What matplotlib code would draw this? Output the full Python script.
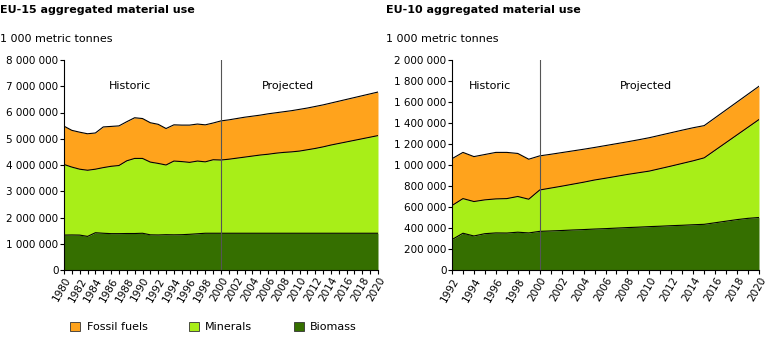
import numpy as np
import matplotlib
matplotlib.use('Agg')
import matplotlib.pyplot as plt
from matplotlib.ticker import FuncFormatter, MultipleLocator
from matplotlib.patches import Patch

# EU-15, 1980-2020 (cumulative tops in 1 000 t)
years15 = list(range(1980, 2021))
biomass15 = [1330, 1335, 1330, 1280, 1420, 1400, 1385, 1385, 1390, 1390,
             1400, 1340, 1335, 1345, 1340, 1345, 1360, 1380, 1400, 1400,
             1400, 1400, 1400, 1400, 1400, 1400, 1400, 1400, 1400, 1400,
             1400, 1400, 1400, 1400, 1400, 1400, 1400, 1400, 1400, 1400, 1400]
min_top15 = [4020, 3920, 3840, 3800, 3840, 3900, 3950, 3980, 4160, 4250,
             4250, 4110, 4060, 4000, 4150, 4130, 4100, 4150, 4120, 4200,
             4190, 4220, 4260, 4300, 4340, 4380, 4410, 4450, 4480, 4500,
             4530, 4580, 4630, 4690, 4760, 4820, 4880, 4940, 5000, 5060, 5120]
tot15 = [5480, 5320, 5250, 5190, 5220, 5450, 5470, 5490, 5650, 5800,
         5770, 5610, 5550, 5390, 5530, 5520, 5520, 5560, 5530, 5600,
         5680, 5720, 5770, 5820, 5860, 5900, 5950, 5990, 6030, 6070,
         6120, 6170, 6230, 6290, 6360, 6430, 6500, 6570, 6640, 6710, 6780]

# EU-10, 1992-2020
years10 = list(range(1992, 2021))
biomass10 = [290, 350, 324, 346, 353, 352, 360, 353, 368, 372,
             376, 381, 385, 390, 394, 399, 404, 408, 413, 417,
             422, 426, 431, 435, 450, 465, 480, 492, 500]
min_top10 = [614, 680, 652, 668, 677, 680, 700, 674, 762, 780,
             798, 817, 836, 857, 874, 892, 910, 926, 942, 966,
             990, 1015, 1040, 1068, 1141, 1214, 1287, 1360, 1433]
tot10 = [1060, 1120, 1080, 1100, 1120, 1120, 1110, 1055, 1087, 1102,
         1118, 1134, 1150, 1167, 1185, 1203, 1221, 1240, 1260, 1284,
         1308, 1332, 1355, 1375, 1450, 1525, 1600, 1675, 1750]

c_fossil = '#FFA31C'
c_min = '#A8EE18'
c_bio = '#356F00'

plt.rcParams['font.family'] = 'DejaVu Sans'
plt.rcParams['font.size'] = 7.5

fig = plt.figure(figsize=(7.68, 3.37), dpi=100)

def fmt(v, pos):
    return '{:,}'.format(int(round(v))).replace(',', ' ')

def panel(rect, years, bio, mtop, tot, ymax, ystep, split, htxt, ptxt):
    ax = fig.add_axes(rect)
    x = np.array(years)
    b = np.array(bio) * 1000
    m = np.array(mtop) * 1000
    t = np.array(tot) * 1000
    ax.fill_between(x, m, t, color=c_fossil, lw=0)
    ax.fill_between(x, b, m, color=c_min, lw=0)
    ax.fill_between(x, 0, b, color=c_bio, lw=0)
    for s in (t, m, b):
        ax.plot(x, s, color='black', lw=0.8)
    ax.axvline(split, color='#555555', lw=0.8)
    ax.set_xlim(years[0], years[-1])
    ax.set_ylim(0, ymax)
    ax.yaxis.set_major_locator(MultipleLocator(ystep))
    ax.yaxis.set_major_formatter(FuncFormatter(fmt))
    ax.set_xticks(list(range(years[0], years[-1] + 1, 2)))
    ax.xaxis.set_minor_locator(MultipleLocator(1))
    ax.tick_params(axis='x', which='both', direction='out', length=3, width=0.8, pad=1)
    ax.tick_params(axis='y', direction='out', length=3, width=0.8, pad=1)
    plt.setp(ax.get_xticklabels(), rotation=60, ha='right', rotation_mode='anchor')
    ax.spines['top'].set_visible(False)
    ax.spines['right'].set_visible(False)
    ax.text(htxt[0], htxt[1], 'Historic', ha='center', va='center', fontsize=8)
    ax.text(ptxt[0], ptxt[1], 'Projected', ha='center', va='center', fontsize=8)
    return ax

ax1 = panel([64/768, 67/337, 314/768, 210/337], years15, biomass15, min_top15, tot15,
            8000000, 1000000, 2000, (1988.4, 7000000), (2008.5, 7000000))
ax2 = panel([452/768, 67/337, 307/768, 210/337], years10, biomass10, min_top10, tot10,
            2000000, 200000, 2000, (1995.5, 1750000), (2009.7, 1750000))

fig.text(0.0, 0.985, 'EU-15 aggregated material use', fontweight='bold', fontsize=8, va='top')
fig.text(0.0, 0.885, '1 000 metric tonnes', fontsize=8, va='center')
fig.text(386/768, 0.985, 'EU-10 aggregated material use', fontweight='bold', fontsize=8, va='top')
fig.text(386/768, 0.885, '1 000 metric tonnes', fontsize=8, va='center')

handles = [Patch(facecolor=c_fossil, edgecolor='#333333', lw=0.6, label='Fossil fuels'),
           Patch(facecolor=c_min, edgecolor='#333333', lw=0.6, label='Minerals'),
           Patch(facecolor=c_bio, edgecolor='#333333', lw=0.6, label='Biomass')]
fig.legend(handles=handles, loc='center left', bbox_to_anchor=(60/768, 1 - 327/337), ncol=3,
           frameon=False, fontsize=8, handlelength=0.9, handleheight=0.9,
           handletextpad=0.6, columnspacing=3.7)

fig.savefig('out.png', dpi=100)
